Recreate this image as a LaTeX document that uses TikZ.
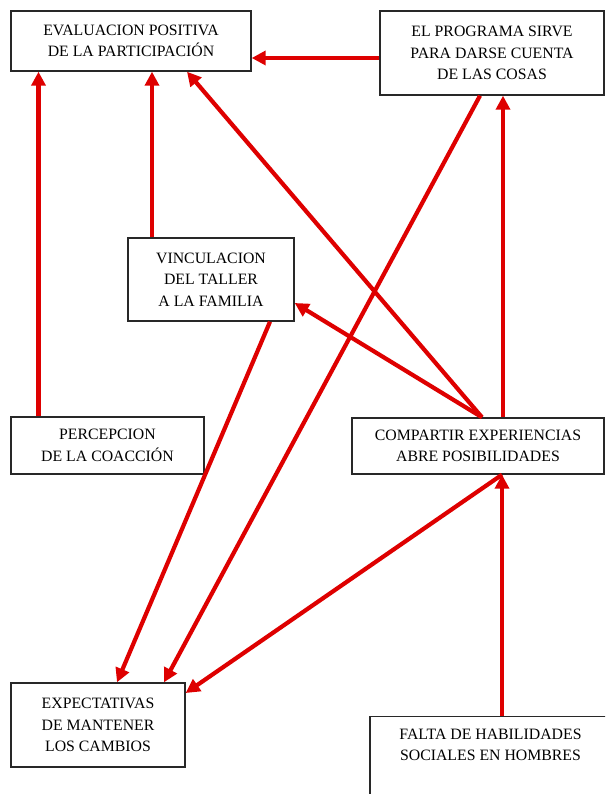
\documentclass[tikz,border=0pt]{standalone}
\usepackage{fontspec}
\setmainfont{Liberation Serif}
\usetikzlibrary{arrows.meta}
\definecolor{arrred}{RGB}{222,0,0}
\definecolor{boxline}{RGB}{40,40,40}
\tikzset{
  box/.style={draw=boxline, line width=1.4pt, fill=white, align=center, inner sep=0pt,
    font=\fontsize{15.8}{21.5}\selectfont},
  txt/.style={align=center, inner sep=0pt, font=\fontsize{15.8}{21.5}\selectfont},
  arr/.style={draw=arrred, line width=4.2pt, -{Triangle[length=14pt,width=14pt]}}
}
\begin{document}
\begin{tikzpicture}[x=1pt,y=-1pt]
\useasboundingbox (0,0) rectangle (605,794);
\clip (0,0) rectangle (605,794);
\fill[white] (0,0) rectangle (605,794);

\node[box, minimum width=240pt, minimum height=60pt] (eval) at (131,41)
  {EVALUACION POSITIVA\\DE LA PARTICIPACIÓN};
\node[box, minimum width=224pt, minimum height=84pt] (prog) at (492,53)
  {EL PROGRAMA SIRVE\\PARA DARSE CUENTA\\DE LAS COSAS};
\node[box, minimum width=166pt, minimum height=83pt] (vinc) at (211,279.5)
  {VINCULACION\\DEL TALLER\\A LA FAMILIA};
\node[box, minimum width=193pt, minimum height=57pt] (perc) at (107.5,445.5)
  {PERCEPCION\\DE LA COACCIÓN};
\node[box, minimum width=252pt, minimum height=56pt] (comp) at (478,446)
  {COMPARTIR EXPERIENCIAS\\ABRE POSIBILIDADES};
\node[box, minimum width=174pt, minimum height=84pt] (expe) at (98,725)
  {EXPECTATIVAS\\DE MANTENER\\LOS CAMBIOS};
\node[box, anchor=north, minimum width=241pt, minimum height=100pt] (falta) at (490.5,716) {};
\node[txt] (faltatxt) at (490.5,745) {FALTA DE HABILIDADES\\SOCIALES EN HOMBRES};

% arrows
\draw[arr] ([yshift=-5pt]prog.west) -- ([yshift=-17pt]eval.east);
\draw[arr] ([xshift=-69pt]perc.north) coordinate (p1) -- (p1 |- eval.south);
\draw[arr] ([xshift=-59pt]vinc.north) coordinate (v1) -- (v1 |- eval.south);
\draw[arr] ([xshift=4pt]comp.north) -- ([xshift=56pt]eval.south);
\draw[arr] ([xshift=4pt]comp.north) -- ([yshift=-23.5pt]vinc.east);
\draw[arr] ([xshift=25pt]comp.north) coordinate (c1) -- (c1 |- prog.south);
\draw[arr] ([xshift=-12pt]prog.south) -- ([xshift=66pt]expe.north);
\draw[arr] ([xshift=59pt]vinc.south) -- ([xshift=19pt]expe.north);
\draw[arr] ([xshift=24pt]comp.south) -- ([yshift=32pt]expe.east);
\draw[arr] ([xshift=11.5pt]falta.north) coordinate (f1) -- (f1 |- comp.south);
\end{tikzpicture}
\end{document}
